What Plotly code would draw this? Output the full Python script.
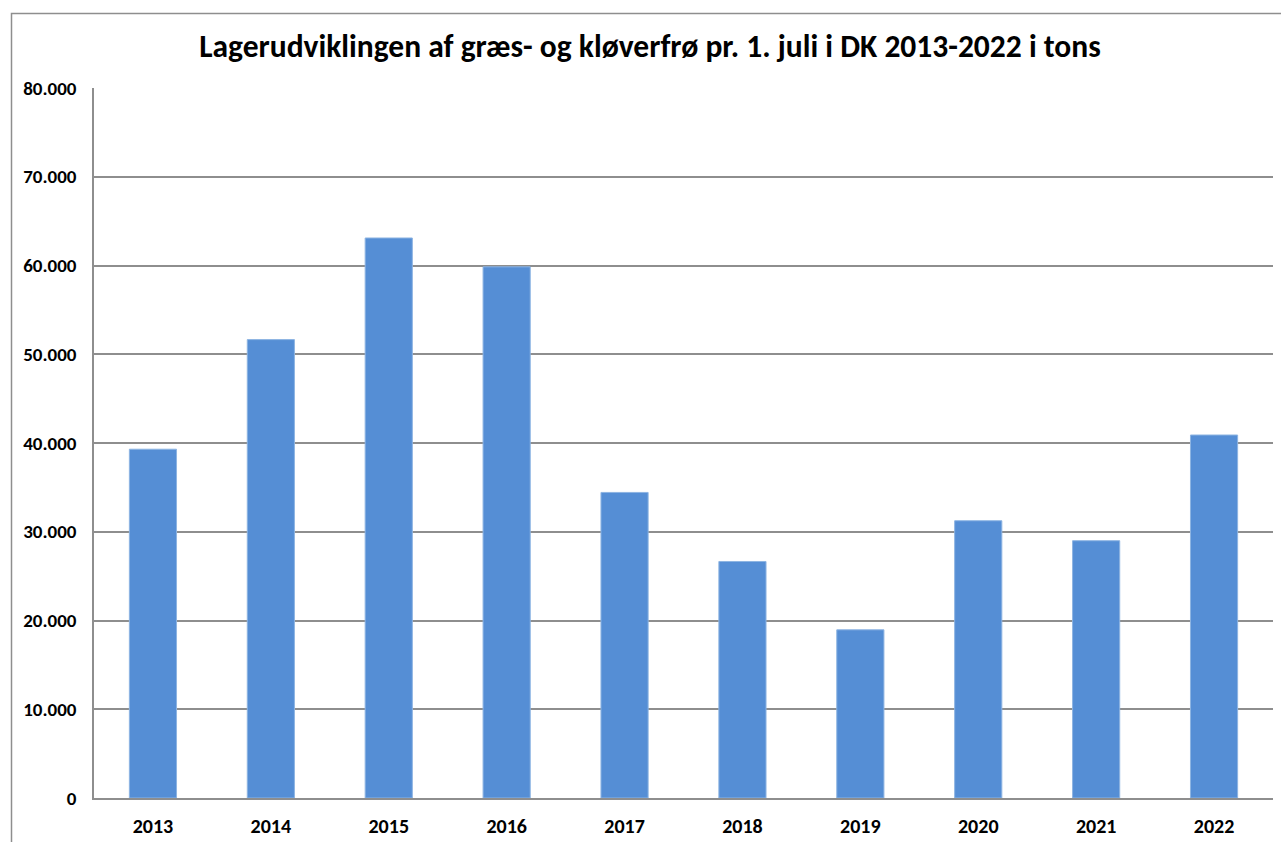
import plotly.graph_objects as go

years = ["2013", "2014", "2015", "2016", "2017", "2018", "2019", "2020", "2021", "2022"]
tons = [39300, 51650, 63100, 59850, 34430, 26650, 18950, 31240, 28990, 40900]
title_text = "Lagerudviklingen af græs- og kløverfrø pr. 1. juli i DK 2013-2022 i tons"

W, H = 1281, 842
L, R, T, B = 94, 8, 88, 44
pw, ph = W - L - R, H - T - B

fig = go.Figure(go.Bar(
    x=years, y=tons,
    marker=dict(color="#558ED5", line=dict(color="#8DB4E2", width=1)),
))

font_family = "Carlito, Lato, 'Liberation Sans', sans-serif"

fig.update_layout(
    width=W, height=H,
    margin=dict(l=L, r=R, t=T, b=B, autoexpand=False),
    paper_bgcolor="white", plot_bgcolor="white",
    separators=",.",
    bargap=0.6,
    showlegend=False,
    font=dict(family=font_family, color="black"),
    title=dict(text=title_text, x=650 / W, xanchor="center",
               y=1 - 46 / H, yanchor="middle",
               font=dict(size=31.5, family=font_family, color="black", weight="bold")),
    xaxis=dict(
        showgrid=False, showline=True, linecolor="#8E8E8E", linewidth=1.5,
        tickfont=dict(size=20, family=font_family, color="black", weight="bold"),
        ticklabelstandoff=9, ticks="", automargin=False,
    ),
    yaxis=dict(
        range=[0, 80000], dtick=10000, tickformat=",d",
        showgrid=True, gridcolor="#8E8E8E", gridwidth=1.5,
        showline=True, linecolor="#8E8E8E", linewidth=1.5,
        zeroline=False,
        tickfont=dict(size=19, family=font_family, color="black", weight="bold"),
        ticklabelstandoff=12, ticks="", automargin=False,
    ),
    shapes=[dict(
        type="rect", xref="paper", yref="paper",
        x0=(11.5 - L) / pw, x1=(W + 20 - L) / pw,
        y0=-(B + 20) / ph, y1=1 + (T - 13.5) / ph,
        line=dict(color="#8E8E8E", width=1.5), fillcolor="rgba(0,0,0,0)", layer="below",
    )],
)

fig.write_html(
    "out.html",
    config={"displayModeBar": False},
    post_script="document.body.style.margin='0';document.body.style.overflow='hidden';",
)
